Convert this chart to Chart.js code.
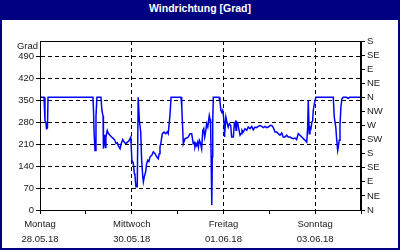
<!DOCTYPE html>
<html>
<head>
<meta charset="utf-8">
<script src="https://cdn.jsdelivr.net/npm/chart.js@4"></script>
<style>
  body { margin: 0; background: #fff; }
  #box {
    width: 400px;
    height: 250px;
    box-sizing: border-box;
    border: 2px solid #000080;
    background: #fff;
  }
  #title {
    height: 18px;
    line-height: 17px;
    background: #000080;
    color: #fff;
    font: bold 10.5px "Liberation Sans", Arial, sans-serif;
    text-align: center;
  }
  canvas { display: block; }
</style>
</head>
<body>
<div id="box">
  <div id="title">Windrichtung [Grad]</div>
  <canvas id="myChart" width="396" height="228"></canvas>
</div>
<script>
// --- DATA ---
// hours since Montag 28.05.18 00:00
const hours = [
  0, 2.1, 2.6, 3.1, 3.4, 3.9, 4.2, 27.7, 28.0, 28.3, 28.8, 29.3, 29.8,
  31.9, 32.4, 33.0, 33.2, 33.8, 34.3, 34.5, 35.2, 35.7, 36.6, 37.5, 38.4,
  39.0, 39.8, 40.5, 41.0, 41.9, 42.4, 43.3, 44.0, 44.8, 45.7, 46.7, 47.5,
  48.1, 48.8, 49.4, 49.7, 50.2, 50.9, 51.4, 52.0, 52.3, 52.7, 53.2, 53.8,
  54.1, 54.6, 55.3, 55.8, 56.4, 57.0, 57.6, 58.5, 59.3, 60.2, 61.1, 61.9,
  62.4, 62.8, 63.3, 64.0, 64.9, 65.8, 66.6, 67.1, 67.5, 68.0, 68.6, 73.8,
  74.2, 75.0, 75.9, 76.8, 77.6, 78.5, 79.4, 80.2, 80.8, 81.1, 81.6, 82.0,
  82.5, 82.9, 83.4, 83.9, 84.6, 85.2, 85.7, 86.2, 86.7, 87.2, 87.8, 88.1,
  88.6, 89.0, 89.3, 89.6, 89.9, 90.2, 90.4, 90.7, 93.7, 94.2, 94.7, 95.2,
  95.6, 95.9, 96.3, 96.5, 96.8, 97.3, 98.0, 98.5, 99.1, 99.8, 100.3, 101.2,
  101.7, 102.2, 102.6, 102.9, 103.5, 104.0, 104.7, 105.2, 105.7, 106.4,
  107.3, 108.2, 109.0, 109.9, 110.8, 111.6, 112.5, 113.4, 114.2, 115.1,
  116.0, 116.9, 117.8, 118.6, 119.5, 120.4, 121.3, 122.1, 123.0, 123.9,
  124.7, 125.6, 126.5, 127.3, 128.2, 129.1, 129.9, 130.8, 131.7, 132.6,
  133.5, 134.3, 135.2, 136.1, 137.0, 137.8, 138.7, 139.6, 140.1, 140.4,
  140.9, 141.3, 141.8, 142.3, 142.7, 143.0, 143.6, 144.4, 153.5, 154.0,
  154.8, 155.3, 155.8, 156.1, 156.6, 157.0, 157.5, 158.0, 158.7, 160.5,
  161.2, 162.2, 168
];
const direction = [
  360, 360, 285, 280, 260, 262, 360, 360, 320, 250, 190, 300, 360,
  360, 318, 300, 196, 240, 200, 233, 254, 245, 239, 233, 228,
  225, 212, 215, 205, 196, 210, 225, 218, 212, 216, 223, 233,
  159, 150, 117, 110, 74, 74, 360, 286, 286, 250, 160, 106,
  90, 106, 122, 148, 159, 155, 170, 175, 186, 180, 170, 164,
  180, 201, 215, 244, 249, 244, 250, 244, 244, 302, 360, 360,
  330, 212, 228, 230, 233, 244, 244, 212, 216, 201, 212, 206,
  216, 201, 223, 216, 196, 254, 260, 233, 250, 276, 265, 280,
  302, 290, 265, 159, 16, 170, 280, 360, 360, 345, 318, 312,
  318, 308, 281, 233, 244, 297, 276, 265, 276, 270, 233, 233,
  276, 281, 255, 281, 276, 260, 239, 244, 255, 249,
  260, 255, 265, 260, 267, 256, 265, 263, 267, 270,
  267, 263, 267, 263, 265, 270, 270, 263, 249, 249,
  244, 239, 246, 233, 233, 239, 233, 233, 230, 228,
  230, 225, 244, 239, 233, 228, 223, 217, 265, 350,
  244, 265, 260, 281, 285, 318, 340, 360, 360, 297,
  265, 223, 190, 200, 223, 270, 330, 355, 360, 360,
  357, 360, 360
];

// --- TICKS ---
const gradTicks = [0, 70, 140, 210, 280, 350, 420, 490];
const compassLabels = ["N", "NE", "E", "SE", "S", "SW", "W", "NW", "N", "NE", "E", "SE", "S"];
const dayLabels = {
  0: ["Montag", "28.05.18"],
  48: ["Mittwoch", "30.05.18"],
  96: ["Freitag", "01.06.18"],
  144: ["Sonntag", "03.06.18"],
};
const gridHours = [48, 96, 144];
// -----------------------------------

const font = { family: "'Liberation Sans', Arial, sans-serif", size: 9.5 };
const textColor = "#1a1a1a";

// --- PLUGIN: frame + "Grad" label ---
const frame = {
  id: "frame",
  afterDraw(chart) {
    const { ctx, chartArea: { top, left, right, bottom } } = chart;
    ctx.save();
    ctx.strokeStyle = "#000";
    ctx.lineWidth = 1;
    ctx.strokeRect(left + 0.5, top + 0.5, right - left - 1, bottom - top);
    ctx.fillStyle = textColor;
    ctx.font = `${font.size}px ${font.family}`;
    ctx.textAlign = "right";
    ctx.textBaseline = "middle";
    ctx.fillText("Grad", left - 2, top + 5);
    ctx.restore();
  },
};

// --- CHART CONFIG ---
const config = {
  type: "line",
  data: {
    datasets: [
      {
        label: "Windrichtung",
        data: hours.map((h, i) => ({ x: h, y: direction[i] })),
        borderColor: "#0000ff",
        borderWidth: 1.5,
        pointRadius: 0,
        tension: 0,
      },
    ],
  },
  options: {
    responsive: false,
    animation: false,
    layout: { padding: { top: 21, left: 0, right: 0, bottom: 0 } },
    plugins: {
      legend: { display: false },
      tooltip: { enabled: false },
    },
    scales: {
      x: {
        type: "linear",
        min: 0,
        max: 168,
        afterFit: (scale) => { scale.height = 38; },
        afterBuildTicks: (scale) => {
          scale.ticks = [0, 24, 48, 72, 96, 120, 144, 168].map((v) => ({ value: v }));
        },
        grid: {
          color: (c) => (gridHours.includes(c.tick && c.tick.value) ? "#000" : "rgba(0,0,0,0)"),
          tickColor: "#000",
          tickLength: 4,
          lineWidth: 1,
        },
        border: { display: true, color: "#000", dash: [4, 3] },
        ticks: {
          autoSkip: false,
          maxRotation: 0,
          padding: 3,
          color: textColor,
          font: { ...font, lineHeight: 1.55 },
          callback: (value) => dayLabels[value] || "",
        },
      },
      y: {
        position: "left",
        min: 0,
        max: 540,
        afterFit: (scale) => { scale.width = 38; },
        afterBuildTicks: (scale) => {
          scale.ticks = gradTicks.map((v) => ({ value: v }));
        },
        grid: {
          color: (c) => (c.tick && c.tick.value === 0 ? "rgba(0,0,0,0)" : "#000"),
          tickColor: "#000",
          tickLength: 4,
        },
        border: { display: true, color: "#000", dash: [4, 3] },
        ticks: { autoSkip: false, padding: 2, color: textColor, font },
      },
      y2: {
        position: "right",
        min: 0,
        max: 540,
        afterFit: (scale) => { scale.width = 37; },
        afterBuildTicks: (scale) => {
          scale.ticks = compassLabels.map((_, i) => ({ value: i * 45 }));
        },
        grid: { drawOnChartArea: false, tickColor: "#000", tickLength: 4 },
        border: { display: true, color: "#000" },
        ticks: {
          autoSkip: false,
          padding: 2,
          color: textColor,
          font,
          callback: (value, index) => compassLabels[index],
        },
      },
    },
  },
  plugins: [frame],
};

// --- CREATE THE LINE CHART ---
const myLineChart = new Chart(document.getElementById("myChart"), config);
</script>
</body>
</html>
